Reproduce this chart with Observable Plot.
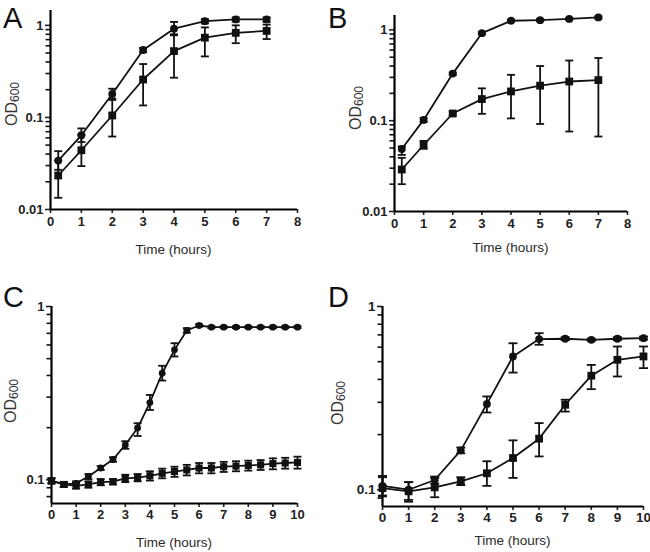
<!DOCTYPE html>
<html><head><meta charset="utf-8">
<script src="https://cdn.jsdelivr.net/npm/d3@7"></script>
<script src="https://cdn.jsdelivr.net/npm/@observablehq/plot@0.6"></script>
<style>
body{margin:0;background:#fff}
#wrap{position:relative;width:650px;height:552px;overflow:hidden}
.cell{position:absolute;width:325px;height:276px}
</style>
</head><body><div id="wrap"></div>
<script>
// ---- Panel A ----
const timeA = [0.25, 1, 2, 3, 4, 5, 6, 7];
const aCircle   = [0.034, 0.064, 0.18, 0.54, 0.92, 1.11, 1.16, 1.16];
const aCircleLo = [0.027, 0.054, 0.155, 0.51, 0.78, 1.05, 1.10, 1.09];
const aCircleHi = [0.043, 0.076, 0.205, 0.57, 1.09, 1.17, 1.22, 1.22];
const aSquare   = [0.0234, 0.044, 0.105, 0.258, 0.525, 0.735, 0.83, 0.87];
const aSquareLo = [0.0134, 0.0296, 0.062, 0.135, 0.27, 0.46, 0.64, 0.71];
const aSquareHi = [0.034, 0.065, 0.16, 0.38, 0.80, 0.95, 1.0, 1.02];

// ---- Panel B ----
const timeB = [0.25, 1, 2, 3, 4, 5, 6, 7];
const bCircle   = [0.0488, 0.102, 0.33, 0.92, 1.26, 1.28, 1.32, 1.37];
const bCircleLo = [0.042, 0.097, 0.32, 0.89, 1.22, 1.24, 1.28, 1.33];
const bCircleHi = [0.052, 0.107, 0.34, 0.95, 1.30, 1.32, 1.36, 1.41];
const bSquare   = [0.029, 0.054, 0.12, 0.173, 0.21, 0.243, 0.27, 0.28];
const bSquareLo = [0.020, 0.049, 0.115, 0.119, 0.106, 0.092, 0.076, 0.067];
const bSquareHi = [0.039, 0.060, 0.126, 0.227, 0.32, 0.40, 0.46, 0.49];

// ---- Panel C ----
const timeC = [0, 0.5, 1, 1.5, 2, 2.5, 3, 3.5, 4, 4.5, 5, 5.5, 6, 6.5, 7, 7.5, 8, 8.5, 9, 9.5, 10];
const cCircle   = [0.099, 0.094, 0.0955, 0.1045, 0.117, 0.131, 0.159, 0.199, 0.279, 0.412, 0.562, 0.727, 0.777, 0.76, 0.76, 0.76, 0.76, 0.76, 0.76, 0.76, 0.76];
const cCircleLo = [0.096, 0.091, 0.093, 0.101, 0.114, 0.127, 0.151, 0.179, 0.253, 0.374, 0.515, 0.705, 0.765, 0.75, 0.75, 0.75, 0.75, 0.75, 0.75, 0.75, 0.75];
const cCircleHi = [0.102, 0.097, 0.098, 0.108, 0.120, 0.135, 0.167, 0.212, 0.309, 0.455, 0.614, 0.75, 0.79, 0.77, 0.77, 0.77, 0.77, 0.77, 0.77, 0.77, 0.77];
const cSquare   = [0.0985, 0.094, 0.0923, 0.094, 0.097, 0.0975, 0.102, 0.103, 0.1055, 0.109, 0.1116, 0.114, 0.117, 0.117, 0.119, 0.120, 0.121, 0.122, 0.124, 0.125, 0.126];
const cSquareLo = [0.095, 0.091, 0.089, 0.090, 0.093, 0.094, 0.097, 0.098, 0.099, 0.102, 0.104, 0.106, 0.109, 0.109, 0.111, 0.112, 0.113, 0.114, 0.115, 0.116, 0.116];
const cSquareHi = [0.102, 0.097, 0.096, 0.098, 0.101, 0.101, 0.107, 0.108, 0.112, 0.116, 0.119, 0.122, 0.125, 0.125, 0.127, 0.128, 0.129, 0.130, 0.133, 0.134, 0.136];

// ---- Panel D ----
const timeD = [0, 1, 2, 3, 4, 5, 6, 7, 8, 9, 10];
const dCircle   = [0.105, 0.100, 0.113, 0.164, 0.294, 0.534, 0.664, 0.667, 0.658, 0.667, 0.672];
const dCircleLo = [0.093, 0.088, 0.108, 0.158, 0.264, 0.436, 0.618, 0.655, 0.648, 0.655, 0.660];
const dCircleHi = [0.117, 0.110, 0.118, 0.170, 0.323, 0.630, 0.715, 0.680, 0.668, 0.680, 0.685];
const dSquare   = [0.102, 0.098, 0.103, 0.111, 0.123, 0.149, 0.190, 0.291, 0.419, 0.512, 0.534];
const dSquareLo = [0.092, 0.086, 0.091, 0.106, 0.105, 0.116, 0.152, 0.267, 0.354, 0.415, 0.461];
const dSquareHi = [0.119, 0.110, 0.116, 0.117, 0.143, 0.186, 0.231, 0.310, 0.480, 0.605, 0.605];

// ---- Axis ticks / labels ----
const xTicks8 = [0, 1, 2, 3, 4, 5, 6, 7, 8];
const xTicks10 = [0, 1, 2, 3, 4, 5, 6, 7, 8, 9, 10];
const yTicksAB = [0.01, 0.1, 1];
const yTicksCD = [0.1, 1];
const xTitle = "Time (hours)";
const yTitleMain = "OD";
const yTitleSub = "600";
const panelLetters = ["A", "B", "C", "D"];

const FONT = '"Liberation Sans", Arial, Helvetica, sans-serif';

const panels = [
  {letter: panelLetters[0], left: 0, top: 0, m: {top: 10, right: 28, bottom: 67, left: 50},
   xDomain: [0, 8], xTicks: xTicks8, yDomain: [0.01, 1.45], yTicks: yTicksAB,
   t: timeA, c: [aCircle, aCircleLo, aCircleHi], s: [aSquare, aSquareLo, aSquareHi],
   xPad: 3, tickFont: 13, timeY: 249, odX: 11, odY: 104, letterY: 28, mr: 3.9, sr: 4.4, cap: 4},
  {letter: panelLetters[1], left: 325, top: 0, m: {top: 15, right: 23, bottom: 65, left: 69},
   xDomain: [0, 8], xTicks: xTicks8, yDomain: [0.01, 1.44], yTicks: yTicksAB,
   t: timeB, c: [bCircle, bCircleLo, bCircleHi], s: [bSquare, bSquareLo, bSquareHi],
   xPad: 3, tickFont: 13, timeY: 247, odX: 30, odY: 108, letterY: 28, mr: 3.9, sr: 4.4, cap: 4},
  {letter: panelLetters[2], left: 0, top: 276, m: {top: 30, right: 28, bottom: 49, left: 51},
   xDomain: [0, 10], xTicks: xTicks10, yDomain: [0.073, 1], yTicks: yTicksCD,
   t: timeC, c: [cCircle, cCircleLo, cCircleHi], s: [cSquare, cSquareLo, cSquareHi],
   xPad: 2, tickFont: 13, timeY: 266, odX: 10, odY: 125, letterY: 31, mr: 3.4, sr: 4.0, cap: 4},
  {letter: panelLetters[3], left: 325, top: 276, m: {top: 30, right: 7, bottom: 46, left: 57},
   xDomain: [0, 10], xTicks: xTicks10, yDomain: [0.081, 1], yTicks: yTicksCD,
   t: timeD, c: [dCircle, dCircleLo, dCircleHi], s: [dSquare, dSquareLo, dSquareHi],
   xPad: 2, tickFont: 13.5, timeY: 264, odX: 12, odY: 127, letterY: 31, mr: 3.9, sr: 4.4, cap: 4.5}
];

// horizontal-line symbol for error-bar caps and minor ticks
const capSym = {draw(ctx, size) { const w = Math.sqrt(size / Math.PI); ctx.moveTo(-w, 0); ctx.lineTo(w, 0); }};

function minorTicks([lo, hi]) {
  const out = [];
  for (let e = Math.floor(Math.log10(lo)); e <= Math.ceil(Math.log10(hi)); e++) {
    for (let k = 2; k <= 9; k++) { const v = k * Math.pow(10, e); if (v >= lo && v <= hi) out.push(v); }
  }
  return out;
}

const wrap = document.getElementById("wrap");
for (const p of panels) {
  const rowsC = p.t.map((t, i) => ({t, v: p.c[0][i], lo: p.c[1][i], hi: p.c[2][i]}));
  const rowsS = p.t.map((t, i) => ({t, v: p.s[0][i], lo: p.s[1][i], hi: p.s[2][i]}));
  const sw = 1.8;
  const svg = Plot.plot({
    width: 325, height: 276,
    marginTop: p.m.top, marginRight: p.m.right, marginBottom: p.m.bottom, marginLeft: p.m.left,
    x: {domain: p.xDomain},
    y: {type: "log", domain: p.yDomain},
    style: {fontFamily: FONT, fontSize: p.tickFont + "px", fontWeight: "bold", color: "#222", background: "transparent", overflow: "visible"},
    marks: [
      Plot.axisY(p.yTicks, {tickSize: 5, tickPadding: 2, tickFormat: d => String(d), strokeWidth: 1.6, label: null}),
      Plot.axisX(p.xTicks, {tickSize: 4, tickPadding: p.xPad, tickFormat: d => String(d), strokeWidth: 1.6, label: null}),
      Plot.ruleX([p.xDomain[0]], {stroke: "#000", strokeWidth: 2.2}),
      Plot.ruleY([p.yDomain[0]], {stroke: "#000", strokeWidth: 2.2}),
      // minor log ticks: short strokes just left of the y axis
      Plot.dot(minorTicks(p.yDomain), {x: p.xDomain[0], y: d => d, r: 2.4, dx: -2.6, symbol: capSym, stroke: "#111", fill: "none", strokeWidth: 1.6}),
      Plot.line(rowsC, {x: "t", y: "v", stroke: "#111", strokeWidth: sw}),
      Plot.line(rowsS, {x: "t", y: "v", stroke: "#111", strokeWidth: sw}),
      Plot.ruleX(rowsC, {x: "t", y1: "lo", y2: "hi", stroke: "#111", strokeWidth: sw}),
      Plot.ruleX(rowsS, {x: "t", y1: "lo", y2: "hi", stroke: "#111", strokeWidth: sw}),
      Plot.dot(rowsC, {x: "t", y: "lo", r: p.cap, symbol: capSym, stroke: "#111", fill: "none", strokeWidth: sw}),
      Plot.dot(rowsC, {x: "t", y: "hi", r: p.cap, symbol: capSym, stroke: "#111", fill: "none", strokeWidth: sw}),
      Plot.dot(rowsS, {x: "t", y: "lo", r: p.cap, symbol: capSym, stroke: "#111", fill: "none", strokeWidth: sw}),
      Plot.dot(rowsS, {x: "t", y: "hi", r: p.cap, symbol: capSym, stroke: "#111", fill: "none", strokeWidth: sw}),
      Plot.dot(rowsC, {x: "t", y: "v", r: p.mr, symbol: "circle", fill: "#111", stroke: "none"}),
      Plot.dot(rowsS, {x: "t", y: "v", r: p.sr, symbol: "square", fill: "#111", stroke: "none"})
    ]
  });
  const cell = document.createElement("div");
  cell.className = "cell";
  cell.style.left = p.left + "px";
  cell.style.top = p.top + "px";
  cell.appendChild(svg);
  wrap.appendChild(cell);

  const s = d3.select(svg);
  const xCenter = (p.m.left + (325 - p.m.right)) / 2;
  // x title
  s.append("text")
    .attr("x", xCenter).attr("y", p.timeY)
    .attr("text-anchor", "middle").attr("dominant-baseline", "central")
    .attr("font-family", FONT).attr("font-size", 13.5).attr("font-weight", "normal").attr("fill", "#2a2a2a")
    .text(xTitle);
  // y title with subscript
  const yt = s.append("text")
    .attr("transform", `translate(${p.odX},${p.odY}) rotate(-90)`)
    .attr("text-anchor", "middle").attr("dominant-baseline", "central")
    .attr("font-family", FONT).attr("font-size", 16).attr("font-weight", "normal").attr("fill", "#333");
  yt.append("tspan").text(yTitleMain);
  yt.append("tspan").attr("font-size", 12).attr("dy", 4).text(yTitleSub);
  // panel letter
  s.append("text")
    .attr("x", 3).attr("y", p.letterY)
    .attr("text-anchor", "start")
    .attr("font-family", FONT).attr("font-size", 29).attr("font-weight", "normal").attr("fill", "#111")
    .text(p.letter);
}
</script>
</body></html>
